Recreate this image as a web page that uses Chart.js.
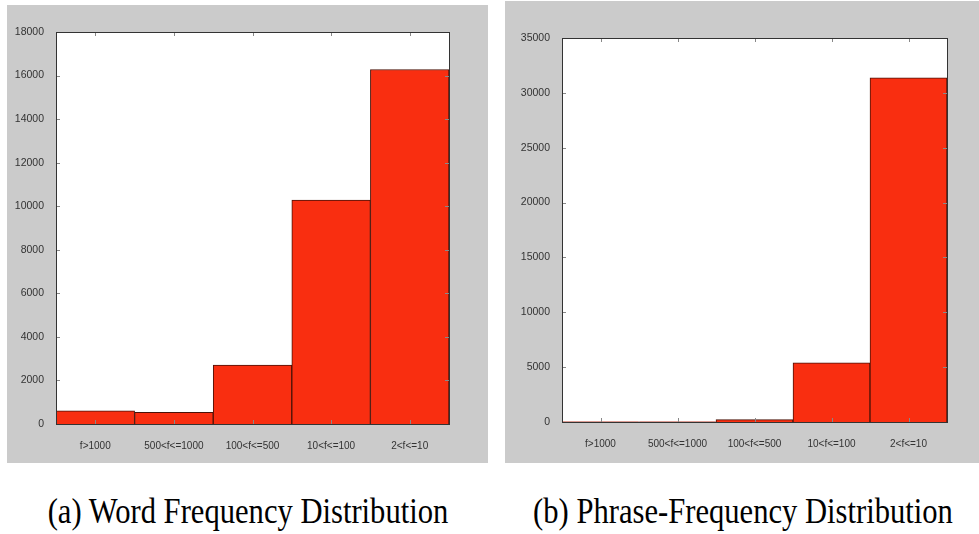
<!DOCTYPE html>
<html>
<head>
<meta charset="utf-8">
<script src="https://cdn.jsdelivr.net/npm/chart.js@4.4.0/dist/chart.umd.min.js"></script>
<style>
    body { margin: 0; width: 979px; height: 534px; background: #fff; position: relative; overflow: hidden; }
    .panel { position: absolute; background: #cbcbcb; }
    #panelA { left: 7px; top: 5px; width: 481px; height: 458px; }
    #panelB { left: 505px; top: 1px; width: 474px; height: 462px; }
    .caption {
        position: absolute; top: 490px; font-family: "Liberation Serif", "DejaVu Serif", serif;
        font-size: 36px; color: #000; white-space: nowrap; transform-origin: center top;
        transform: scaleX(0.85); width: 560px; text-align: center;
    }
    #capA { left: -32px; }
    #capB { left: 463px; }
</style>
</head>
<body>
<div class="panel" id="panelA"><canvas id="wordChart"></canvas></div>
<div class="panel" id="panelB"><canvas id="phraseChart"></canvas></div>
<div class="caption" id="capA">(a) Word Frequency Distribution</div>
<div class="caption" id="capB">(b) Phrase-Frequency Distribution</div>

<script>
const categories = ["f>1000", "500<f<=1000", "100<f<=500", "10<f<=100", "2<f<=10"];
const wordCounts = [610, 540, 2710, 10280, 16280];
const phraseCounts = [20, 15, 210, 5400, 31360];

// white plot area, the box round it and the little inward ticks
const frameBox = {
    id: "frameBox",
    beforeDatasetsDraw(chart) {
        const a = chart.chartArea;
        chart.ctx.save();
        chart.ctx.fillStyle = "#fff";
        chart.ctx.fillRect(a.left, a.top, a.right - a.left, a.bottom - a.top);
        chart.ctx.restore();
    },
    afterDatasetsDraw(chart) {
        const ctx = chart.ctx;
        const a = chart.chartArea;
        ctx.save();
        ctx.strokeStyle = "#888";
        ctx.lineWidth = 1;
        const x = chart.scales.x, y = chart.scales.y;
        ctx.beginPath();
        x.ticks.forEach((t, i) => {
            const px = Math.round(x.getPixelForTick(i)) + 0.5;
            ctx.moveTo(px, a.top); ctx.lineTo(px, a.top + 4);
            ctx.moveTo(px, a.bottom); ctx.lineTo(px, a.bottom - 4);
        });
        y.ticks.forEach((t, i) => {
            const py = Math.round(y.getPixelForTick(i)) + 0.5;
            ctx.moveTo(a.left, py); ctx.lineTo(a.left + 4, py);
            ctx.moveTo(a.right, py); ctx.lineTo(a.right - 4, py);
        });
        ctx.stroke();
        ctx.strokeStyle = "#333";
        ctx.strokeRect(Math.round(a.left) + 0.5, Math.round(a.top) + 0.5,
            Math.round(a.right - a.left), Math.round(a.bottom - a.top));
        ctx.restore();
    }
};

function initHistChart(canvasId, data, maxVal, step, pad, yWidth, xHeight) {
    const ctx = document.getElementById(canvasId).getContext("2d");
    new Chart(ctx, {
        type: "bar",
        data: {
            labels: categories,
            datasets: [{
                data: data,
                backgroundColor: "#f92e10",
                borderColor: "#4a1208",
                borderWidth: 1,
                categoryPercentage: 1,
                barPercentage: 1
            }]
        },
        options: {
            responsive: true,
            maintainAspectRatio: false,
            animation: false,
            layout: { padding: pad },
            plugins: { legend: { display: false }, tooltip: { enabled: false } },
            scales: {
                x: {
                    grid: { display: false },
                    border: { display: false },
                    ticks: { color: "#333", font: { family: "Liberation Sans, Arial", size: 10 }, padding: 8, maxRotation: 0 },
                    afterFit: s => { s.height = xHeight; }
                },
                y: {
                    min: 0,
                    max: maxVal,
                    grid: { display: false },
                    border: { display: false },
                    ticks: {
                        stepSize: step, color: "#333", padding: 4,
                        font: { family: "Liberation Sans, Arial", size: 10.5 },
                        callback: v => String(v)
                    },
                    afterFit: s => { s.width = yWidth; }
                }
            }
        },
        plugins: [frameBox]
    });
}

initHistChart("wordChart", wordCounts, 18000, 2000, { top: 27, right: 39, left: 0, bottom: 0 }, 49, 39);
initHistChart("phraseChart", phraseCounts, 35000, 5000, { top: 37, right: 32, left: 0, bottom: 0 }, 57, 41);
</script>
</body>
</html>
